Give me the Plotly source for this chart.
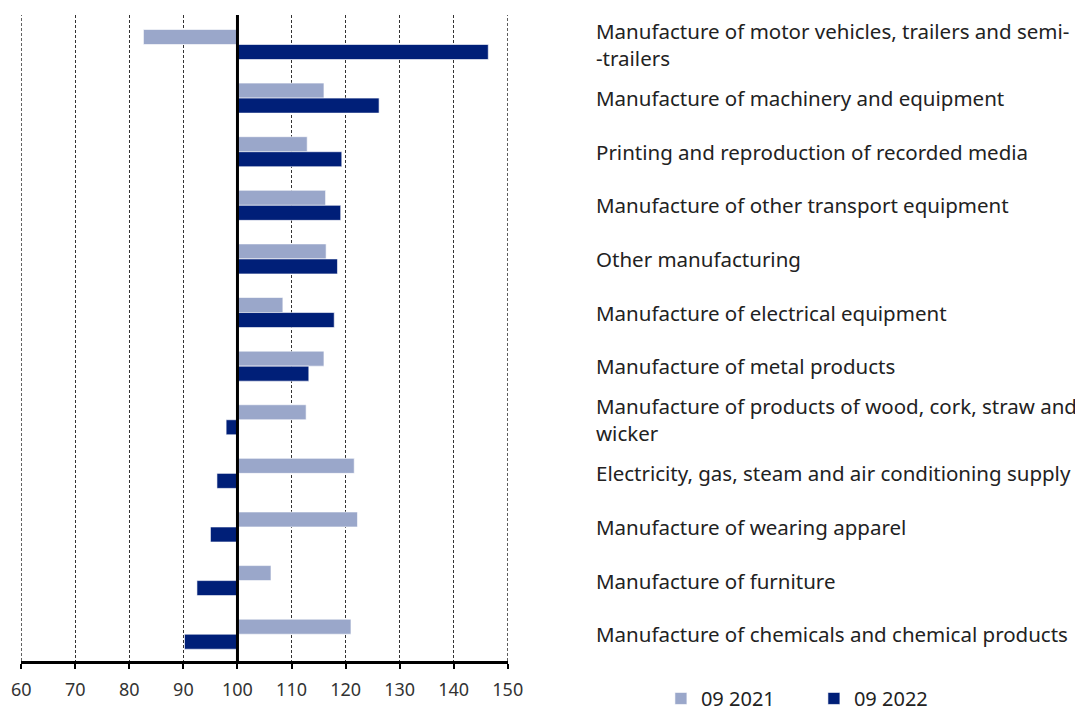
import plotly.graph_objects as go

categories = [
    "Manufacture of motor vehicles, trailers and semi-<br>-trailers",
    "Manufacture of machinery and equipment",
    "Printing and reproduction of recorded media",
    "Manufacture of other transport equipment",
    "Other manufacturing",
    "Manufacture of electrical equipment",
    "Manufacture of metal products",
    "Manufacture of products of wood, cork, straw and<br>wicker",
    "Electricity, gas, steam and air conditioning supply",
    "Manufacture of wearing apparel",
    "Manufacture of furniture",
    "Manufacture of chemicals and chemical products",
]
ids = [f"c{i}" for i in range(len(categories))]
values_2021 = [82.6, 116.0, 112.9, 116.3, 116.4, 108.4, 116.0, 112.7, 121.6, 122.2, 106.2, 121.0]
values_2022 = [146.4, 126.2, 119.3, 119.1, 118.5, 117.9, 113.2, 97.9, 96.2, 95.0, 92.5, 90.2]
series_names = ["09 2021", "09 2022"]
colors = ["#9aa7ca", "#001f78"]
base_value = 100
x_ticks = [60, 70, 80, 90, 100, 110, 120, 130, 140, 150]

FONT = "Noto Sans"

fig = go.Figure()
for name, vals, col in zip(series_names, [values_2021, values_2022], colors):
    fig.add_trace(go.Bar(
        y=ids, x=[v - base_value for v in vals], base=base_value,
        orientation="h", name=name,
        marker=dict(color=col, line=dict(color="rgba(255,255,255,0.6)", width=1)),
    ))

for cid, label in zip(ids, categories):
    fig.add_annotation(
        x=1.176, xref="paper", y=cid, yref="y", text=label, showarrow=False,
        xanchor="left", yanchor="middle", align="left",
        font=dict(family=FONT, size=20.5, color="#222222"),
    )

# dashed gridlines at both range ends (plotly omits them at the edges)
for edge in (x_ticks[0], x_ticks[-1]):
    fig.add_shape(type="line", x0=edge, x1=edge, xref="x", y0=0, y1=1, yref="paper",
                  line=dict(color="#333333", width=1, dash="3px,2px"), layer="below")

fig.add_shape(type="line", x0=base_value, x1=base_value, xref="x", y0=0, y1=1, yref="paper",
              line=dict(color="black", width=3), layer="above")

fig.update_layout(
    width=1075, height=707,
    margin=dict(l=13, r=575, t=7, b=54, autoexpand=False),
    plot_bgcolor="white", paper_bgcolor="white",
    barmode="group", bargap=0.44, bargroupgap=0,
    font=dict(family=FONT, size=18, color="#333333"),
    showlegend=True,
    legend=dict(orientation="h", x=1.314, xanchor="left", y=-0.058, yanchor="middle",
                font=dict(family=FONT, size=20, color="#222222"),
                itemwidth=30, tracegroupgap=0, entrywidth=108),
    xaxis=dict(
        range=[59.95, 150.05], tickvals=x_ticks, ticktext=[str(t) for t in x_ticks],
        showgrid=True, gridcolor="#333333", gridwidth=1, griddash="3px,2px",
        showline=True, linecolor="black", linewidth=2.5,
        ticks="outside", ticklen=5, tickwidth=2, tickcolor="black",
        ticklabelstandoff=6,
        zeroline=False, tickfont=dict(size=18, color="#333333"),
    ),
    yaxis=dict(
        categoryorder="array", categoryarray=ids, autorange="reversed",
        showticklabels=False, showgrid=False, zeroline=False, ticks="",
    ),
)

fig.write_html("out.html")
